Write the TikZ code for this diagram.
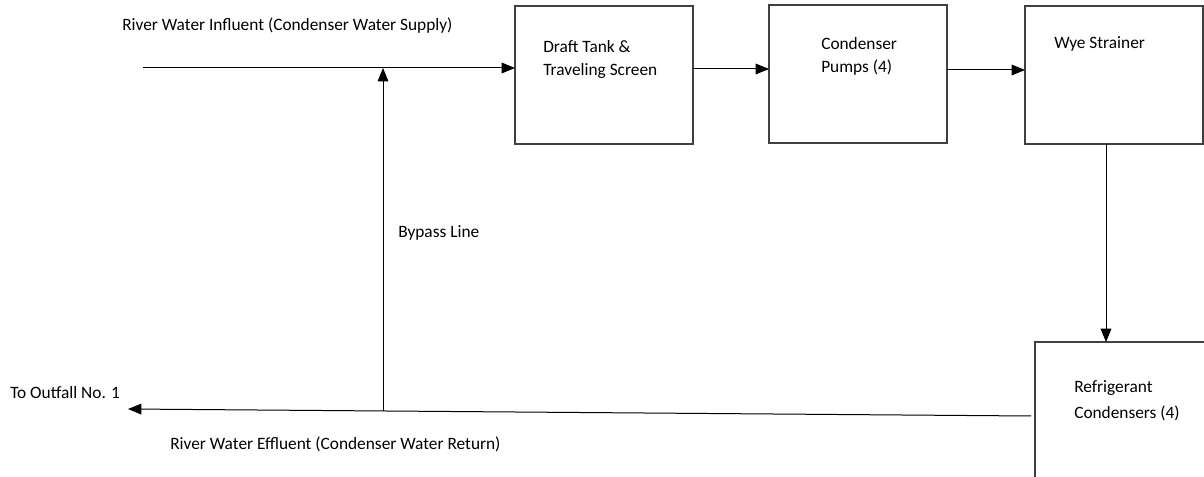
\documentclass[tikz,border=0pt]{standalone}
\usepackage{fontspec}
\setmainfont{Carlito}
\usetikzlibrary{arrows.meta}
\begin{document}
\begin{tikzpicture}[x=0.75pt,y=-0.75pt,
  box/.style={draw=black!75,line width=1pt,minimum width=#1,inner sep=0pt,outer sep=0pt},
  lbl/.style={font=\fontsize{13}{15}\selectfont,anchor=west,inner sep=0pt,align=left},
  flow/.style={line width=0.75pt,-{Triangle[length=10pt,width=8pt]}}]
\clip (0,0) rectangle (1204,477);
\fill[white] (0,0) rectangle (1204,477);
% boxes
\node[box=133.5pt,minimum height=103.5pt] (draft) at (604,75) {};
\node[box=133.5pt,minimum height=103.5pt] (pumps) at (858,74) {};
\node[box=133.5pt,minimum height=103.5pt] (wye) at (1114,75) {};
\node[box=150pt,minimum height=120pt,anchor=north west] (ref) at (1035,342) {};
% box texts
\node[lbl] (tdraft) at (543,47) {Draft Tank \&};
\node[lbl] (tdraft2) at (543,71) {Traveling Screen};
\node[lbl] (tpumps) at (821,44) {Condenser};
\node[lbl] (tpumps2) at (821,68) {Pumps (4)};
\node[lbl] (twye) at (1054,44) {Wye Strainer};
\node[lbl] (tref) at (1074,388) {Refrigerant};
\node[lbl] (tref2) at (1074,413) {Condensers (4)};
% free labels
\node[lbl] (tin) at (122,26) {River Water Influent (Condenser Water Supply)};
\node[lbl] (tout) at (10,393) {To Outfall No. 1};
\node[lbl] (teff) at (170,444) {River Water Effluent (Condenser Water Return)};
\node[lbl] (tby) at (398,233) {Bypass Line};
% coordinates
\coordinate (inS) at (143,68);
\coordinate (effS) at (1031,416);
\coordinate (outE) at (128,409);
\coordinate (junc) at (383,411);
\coordinate (bypT) at (383,68);
% connectors
\draw[flow] (inS) -- (inS -| draft.west);
\draw[flow] ([yshift=4.5pt]draft.east) -- ([yshift=4.5pt]draft.east -| pumps.west);
\draw[flow] ([yshift=3pt]pumps.east) -- ([yshift=3pt]pumps.east -| wye.west);
\draw[flow] ([xshift=-6pt]wye.south) -- ([xshift=-6pt]wye.south |- ref.north);
\draw[flow] (effS) -- (outE);
\draw[flow] (junc) -- (bypT);
\end{tikzpicture}
\end{document}
